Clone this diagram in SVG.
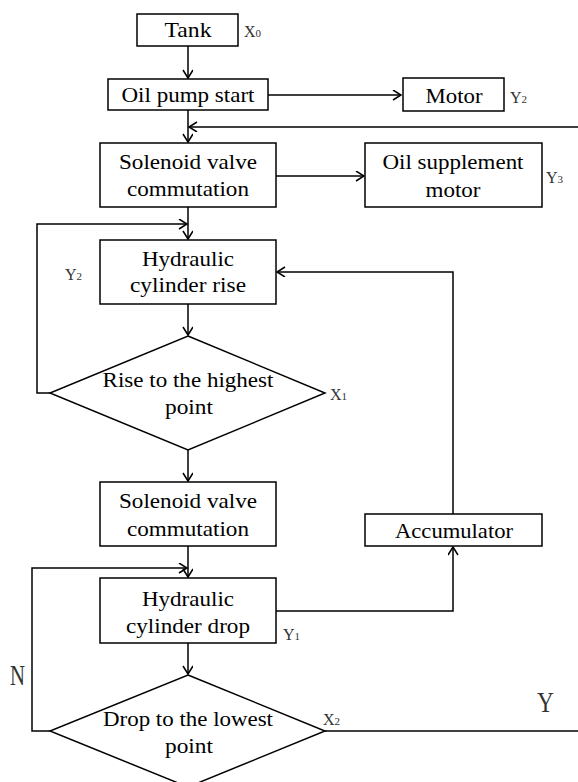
<svg xmlns="http://www.w3.org/2000/svg" width="578" height="782" viewBox="0 0 578 782" font-family="Liberation Serif, Times New Roman, serif">
<style>
.box{fill:#fff;stroke:#000;stroke-width:1.5}
.t{font-size:21px;fill:#000;text-anchor:middle}
.lb{font-size:16px;fill:#333}
.sub{font-size:11px}
.c{fill:none;stroke:#000;stroke-width:1.5}
</style>
<defs>
<marker id="a" markerUnits="userSpaceOnUse" markerWidth="12" markerHeight="12" refX="9" refY="5" orient="auto">
<path d="M1,0 L9,5 L1,10" fill="none" stroke="#000" stroke-width="1.5"/>
</marker>
</defs>
<rect width="578" height="782" fill="#fff"/>
<g id="connectors">
<path class="c" d="M188,46 V78" marker-end="url(#a)"/>
<path class="c" d="M268,95 H401" marker-end="url(#a)"/>
<path class="c" d="M188,110 V142" marker-end="url(#a)"/>
<path class="c" d="M578,127 H189" marker-end="url(#a)"/>
<path class="c" d="M276,176 H364" marker-end="url(#a)"/>
<path class="c" d="M188,207 V239" marker-end="url(#a)"/>
<path class="c" d="M50,393 H37 V224 H187" marker-end="url(#a)"/>
<path class="c" d="M188,304 V335" marker-end="url(#a)"/>
<path class="c" d="M188,450 V481" marker-end="url(#a)"/>
<path class="c" d="M188,546 V577" marker-end="url(#a)"/>
<path class="c" d="M50,731 H32 V568 H187" marker-end="url(#a)"/>
<path class="c" d="M188,643 V674" marker-end="url(#a)"/>
<path class="c" d="M276,611 H453 V547" marker-end="url(#a)"/>
<path class="c" d="M453,514 V272 H277" marker-end="url(#a)"/>
<path class="c" d="M325,731 H578"/>
</g>
<g id="tank">
<rect class="box" x="137" y="14" width="101" height="32"/>
<text class="t" x="188" y="37" textLength="47" lengthAdjust="spacingAndGlyphs">Tank</text>
<text class="lb" x="244" y="37">X<tspan class="sub">0</tspan></text>
</g>
<g id="pump">
<rect class="box" x="108" y="79" width="160" height="31"/>
<text class="t" x="188" y="102" textLength="133" lengthAdjust="spacingAndGlyphs">Oil pump start</text>
</g>
<g id="motor">
<rect class="box" x="403" y="78" width="101" height="33"/>
<text class="t" x="454" y="103" textLength="57" lengthAdjust="spacingAndGlyphs">Motor</text>
<text class="lb" x="510" y="103">Y<tspan class="sub">2</tspan></text>
</g>
<g id="solenoid1">
<rect class="box" x="100" y="143" width="176" height="64"/>
<text class="t" x="188" y="169" textLength="138" lengthAdjust="spacingAndGlyphs">Solenoid valve</text>
<text class="t" x="188" y="196" textLength="122" lengthAdjust="spacingAndGlyphs">commutation</text>
</g>
<g id="oilsupp">
<rect class="box" x="365" y="143" width="177" height="64"/>
<text class="t" x="453" y="169" textLength="141" lengthAdjust="spacingAndGlyphs">Oil supplement</text>
<text class="t" x="453" y="197" textLength="55" lengthAdjust="spacingAndGlyphs">motor</text>
<text class="lb" x="546" y="183">Y<tspan class="sub">3</tspan></text>
</g>
<g id="hydrise">
<rect class="box" x="100" y="240" width="176" height="64"/>
<text class="t" x="188" y="266" textLength="92" lengthAdjust="spacingAndGlyphs">Hydraulic</text>
<text class="t" x="188" y="292" textLength="116" lengthAdjust="spacingAndGlyphs">cylinder rise</text>
<text class="lb" x="65" y="280">Y<tspan class="sub">2</tspan></text>
</g>
<g id="diamond1">
<polygon class="box" points="188,336 325,393 188,450 50,393"/>
<text class="t" x="188" y="387" textLength="171" lengthAdjust="spacingAndGlyphs">Rise to the highest</text>
<text class="t" x="189" y="414" textLength="48" lengthAdjust="spacingAndGlyphs">point</text>
<text class="lb" x="330" y="400">X<tspan class="sub">1</tspan></text>
</g>
<g id="solenoid2">
<rect class="box" x="100" y="482" width="176" height="64"/>
<text class="t" x="188" y="508" textLength="138" lengthAdjust="spacingAndGlyphs">Solenoid valve</text>
<text class="t" x="188" y="536" textLength="122" lengthAdjust="spacingAndGlyphs">commutation</text>
</g>
<g id="accumulator">
<rect class="box" x="365" y="514" width="177" height="32"/>
<text class="t" x="454" y="538" textLength="118" lengthAdjust="spacingAndGlyphs">Accumulator</text>
</g>
<g id="hyddrop">
<rect class="box" x="100" y="578" width="176" height="65"/>
<text class="t" x="188" y="606" textLength="92" lengthAdjust="spacingAndGlyphs">Hydraulic</text>
<text class="t" x="188" y="633" textLength="124" lengthAdjust="spacingAndGlyphs">cylinder drop</text>
<text class="lb" x="283" y="640">Y<tspan class="sub">1</tspan></text>
</g>
<g id="diamond2">
<polygon class="box" points="188,675 325,731 188,787 50,731"/>
<text class="t" x="188" y="726" textLength="170" lengthAdjust="spacingAndGlyphs">Drop to the lowest</text>
<text class="t" x="189" y="753" textLength="48" lengthAdjust="spacingAndGlyphs">point</text>
<text class="lb" x="323" y="725">X<tspan class="sub">2</tspan></text>
</g>
<text class="lb" x="10" y="685" style="font-size:30px" textLength="15" lengthAdjust="spacingAndGlyphs">N</text>
<text class="lb" x="537" y="712" style="font-size:30px" textLength="17" lengthAdjust="spacingAndGlyphs">Y</text>
</svg>
